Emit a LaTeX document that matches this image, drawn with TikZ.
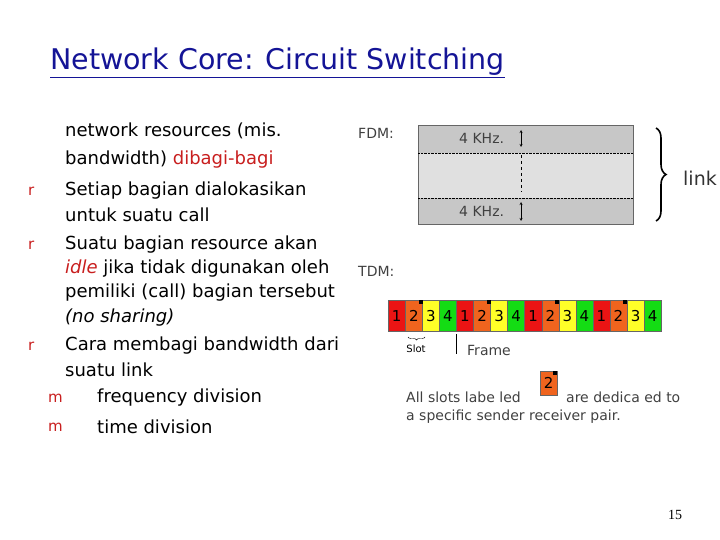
\documentclass[tikz,border=0pt]{standalone}
\usepackage{fontspec}
\setmainfont{DejaVu Sans}
\newfontfamily\lserif{Liberation Serif}
\usetikzlibrary{decorations.pathreplacing}
\definecolor{ttl}{RGB}{20,20,150}
\definecolor{bul}{RGB}{200,30,30}
\definecolor{sred}{RGB}{235,20,20}
\definecolor{sora}{RGB}{240,100,30}
\definecolor{syel}{RGB}{255,255,40}
\definecolor{sgrn}{RGB}{20,220,20}
\begin{document}
\begin{tikzpicture}[x=1pt,y=-1pt,
  txt/.style={anchor=west,inner sep=0,font=\fontsize{18}{20}\selectfont},
  bl/.style={anchor=west,inner sep=0,text=bul,font=\fontsize{15}{18}\selectfont},
  small/.style={anchor=west,inner sep=0,text=black!75,font=\fontsize{14}{16}\selectfont},
  slot/.style={draw=black!60,minimum width=17.06pt,minimum height=31pt,inner sep=0,anchor=north west,font=\fontsize{15}{15}\selectfont}]
\useasboundingbox (0,0) rectangle (720,540);
\node[inner sep=0,anchor=west,text=ttl,font=\fontsize{28.5}{32}\selectfont] (title) at (50,63) {\underline{Network Core: Circuit Switching}};
\node[txt] (l1) at (65,131) {network resources (mis.};
\node[txt] (l2) at (65,160) {bandwidth) \textcolor{bul}{dibagi-bagi}};
\node[bl] (b1) at (28,191) {r};
\node[txt] (l3) at (65,191) {Setiap bagian dialokasikan};
\node[txt] (l4) at (65,215) {untuk suatu call};
\node[bl] (b2) at (28,245) {r};
\node[txt] (l5) at (65,245) {Suatu bagian resource akan};
\node[txt] (l6) at (65,269) {\textcolor{bul}{\textit{idle}} jika tidak digunakan oleh};
\node[txt] (l7) at (65,293) {pemiliki (call) bagian tersebut};
\node[txt] (l8) at (65,318) {\textit{(no sharing)}};
\node[bl] (b3) at (28,346) {r};
\node[txt] (l9) at (65,346) {Cara membagi bandwidth dari};
\node[txt] (l10) at (65,370) {suatu link};
\node[bl] (b4) at (48,398) {m};
\node[txt] (l11) at (97,398) {frequency division};
\node[bl] (b5) at (48,427) {m};
\node[txt] (l12) at (97,427) {time division};
% FDM
\node[small] (fdm) at (358,133) {FDM:};
\fill[black!22] (418,125) rectangle (633,153);
\fill[black!12] (418,153) rectangle (633,198);
\fill[black!22] (418,198) rectangle (633,224);
\draw[black!60] (418,125) rectangle (633,224);
\draw[densely dotted] (418,153) -- (633,153) (418,198) -- (633,198);
\node[small] (k1) at (459,138) {4 KHz.};
\node[small] (k2) at (459,211) {4 KHz.};
\coordinate (a1) at (521,130); \coordinate (a2) at (521,147);
\coordinate (a3) at (521,202); \coordinate (a4) at (521,221);
\draw[<->,>=stealth] (a1) -- (a2);
\draw[<->,>=stealth] (a3) -- (a4);
\draw[dashed] (521,155) -- (521,192);
\draw[decorate,decoration={brace,amplitude=10pt},line width=1.6pt] (656,128) -- (656,221);
\node[anchor=west,inner sep=0,font=\fontsize{19}{20}\selectfont,text=black!80] (link) at (683,178) {link};
% TDM
\node[small] (tdm) at (358,271) {TDM:};
\foreach \c/\n [count=\i from 0] in {sred/1,sora/2,syel/3,sgrn/4,sred/1,sora/2,syel/3,sgrn/4,sred/1,sora/2,syel/3,sgrn/4,sred/1,sora/2,syel/3,sgrn/4}{
  \node[slot,fill=\c] (s\i) at (388+\i*17.06,300) {\n};
}
\foreach \i in {1,5,9,13}{\fill (s\i.north east) ++(-4,0) rectangle ++(4,4);}
\draw[decorate,decoration={brace,amplitude=3pt,mirror}] (408,337) -- (425,337);
\node[inner sep=0,font=\fontsize{10}{12}\selectfont] (slt) at (416,349) {Slot};
\draw (456,334) -- (456,354);
\node[small] (frame) at (467,350) {Frame};
\node[small] (all1) at (406,397) {All slots labe led};
\node[small] (all1b) at (566,397) {are dedica ed to};
\node[small] (all2) at (406,417) {a specific sender receiver pair.};
\node[draw=black!60,fill=sora,minimum width=17pt,minimum height=24pt,inner sep=0,anchor=north west,font=\fontsize{15}{15}\selectfont] (key) at (540,371) {2};
\fill (key.north east) ++(-4,0) rectangle ++(4,4);
\node[inner sep=0,font=\lserif\fontsize{14}{16}\selectfont] (pg) at (675,515) {15};
\end{tikzpicture}
\end{document}
